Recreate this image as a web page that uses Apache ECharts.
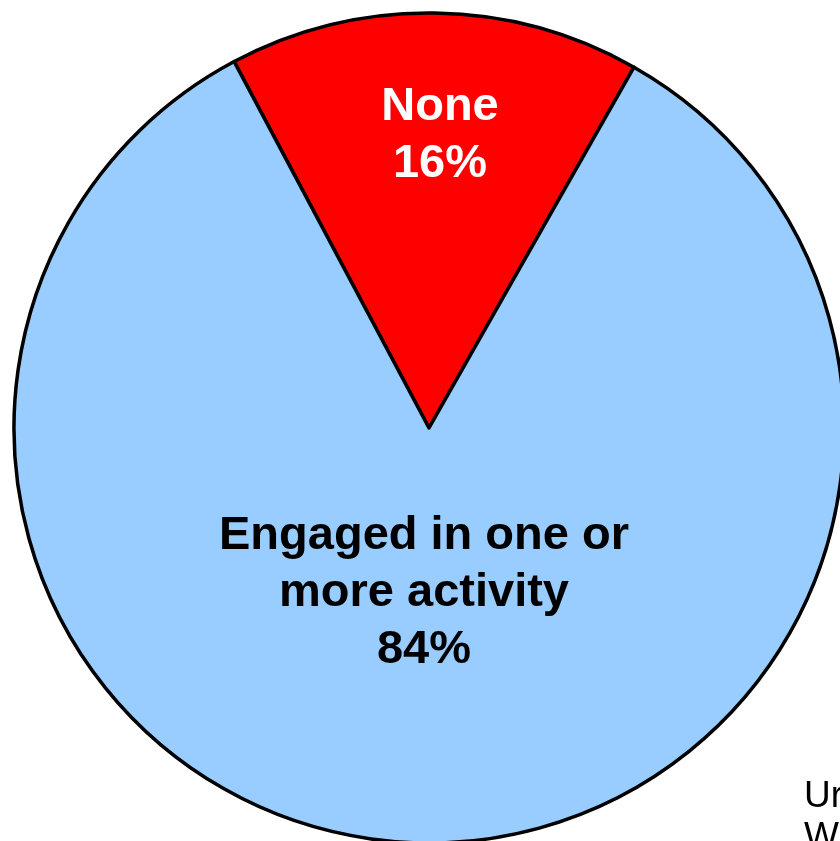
<!DOCTYPE html>
<html>
<head>
<meta charset="utf-8">
<script src="https://cdn.jsdelivr.net/npm/echarts@6/dist/echarts.min.js"></script>
<style>
html,body{margin:0;padding:0;background:#fff;}
#chart{width:840px;height:841px;}
</style>
</head>
<body>
<div id="chart"></div>
<script>
const categories = ['None', 'Engaged in one or more activity'];
const values = [16, 84];
const labelTexts = ['None\n16%', 'Engaged in one or\nmore activity\n84%'];
const colors = ['#FF0000', '#99CCFF'];
const noteLines = ['Ur', 'W'];

const chart = echarts.init(document.getElementById('chart'), null, {renderer: 'canvas'});
chart.setOption({
  animation: false,
  backgroundColor: '#ffffff',
  series: [{
    type: 'pie',
    center: [429, 428],
    radius: 415,
    startAngle: 118,
    clockwise: true,
    z: 1,
    label: {show: false},
    labelLine: {show: false},
    silent: true,
    itemStyle: {borderColor: '#000000', borderWidth: 3.5},
    data: categories.map((c, i) => ({name: c, value: values[i], itemStyle: {color: colors[i]}}))
  }],
  graphic: [
    {
      type: 'text', x: 440, y: 136, z: 100,
      style: {text: labelTexts[0], fill: '#ffffff', font: 'bold 47px "Liberation Sans", Arial, sans-serif',
        align: 'center', verticalAlign: 'middle', lineHeight: 57}
    },
    {
      type: 'text', x: 424, y: 593, z: 100,
      style: {text: labelTexts[1], fill: '#000000', font: 'bold 47px "Liberation Sans", Arial, sans-serif',
        align: 'center', verticalAlign: 'middle', lineHeight: 57}
    },
    {
      type: 'text', x: 804, y: 776, z: 100,
      style: {text: noteLines.join('\n'), fill: '#000000', font: '37px "Liberation Sans", Arial, sans-serif',
        align: 'left', verticalAlign: 'top', lineHeight: 41}
    }
  ]
});
</script>
</body>
</html>
